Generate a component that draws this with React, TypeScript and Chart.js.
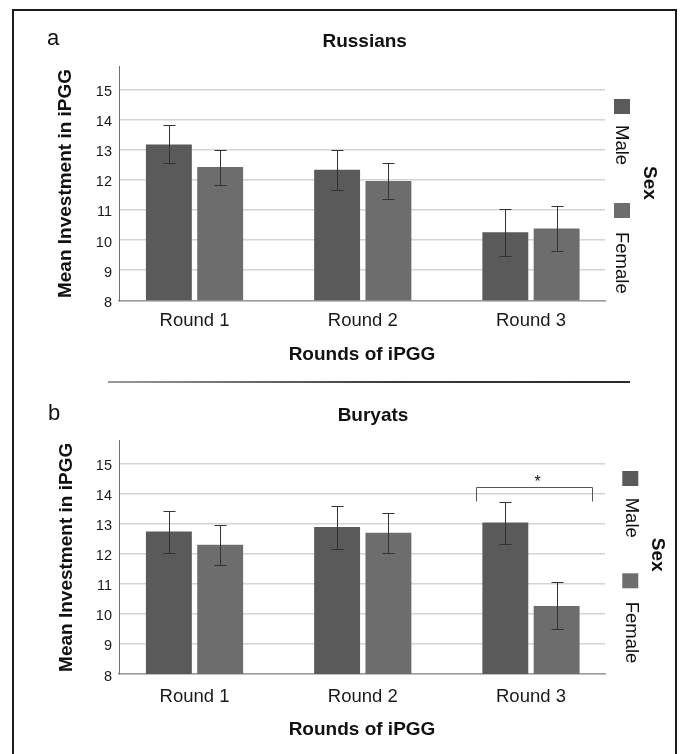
import React, { useEffect, useRef } from 'react';
import { Chart, registerables } from 'chart.js';

Chart.register(...registerables);

// ---------------- data ----------------
const categories = ['Round 1', 'Round 2', 'Round 3'];
const seriesNames = ['Male', 'Female'];
const yTicks = [8, 9, 10, 11, 12, 13, 14, 15];
const xAxisTitle = 'Rounds of iPGG';
const yAxisTitle = 'Mean Investment in iPGG';
const legendTitle = 'Sex';

// Panel a: Russians
const russiansMale = [13.17, 12.33, 10.26];
const russiansMaleHi = [13.8, 12.99, 11.04];
const russiansMaleLo = [12.57, 11.66, 9.47];
const russiansFemale = [12.42, 11.96, 10.38];
const russiansFemaleHi = [13.0, 12.57, 11.14];
const russiansFemaleLo = [11.84, 11.36, 9.64];

// Panel b: Buryats
const buryatsMale = [12.73, 12.88, 13.03];
const buryatsMaleHi = [13.43, 13.59, 13.72];
const buryatsMaleLo = [12.03, 12.16, 12.32];
const buryatsFemale = [12.29, 12.69, 10.26];
const buryatsFemaleHi = [12.95, 13.34, 11.05];
const buryatsFemaleLo = [11.62, 12.03, 9.48];

// significance bracket (Buryats, Round 3)
const sigFrom = 2.673;
const sigTo = 3.361;
const sigLevel = 14.2;
const sigDrop = 13.75;
const sigStarAt = 3.04;
const sigLabel = '*';

// ---------------- styles ----------------
const FONT = "'Liberation Sans', Arial, Helvetica, sans-serif";
const MALE_COLOR = '#5a5a5a';
const FEMALE_COLOR = '#6d6d6d';
const TEXT = '#111111';

Chart.defaults.font.family = FONT;

type Geo = {
  top: number;
  height: number;
  padTop: number;
  xAxisH: number;
  xTickPad: number;
  xTitlePadBottom: number;
  yTitlePadTop: number;
  letter: { x: number; y: number };
  title: { x: number; y: number };
  legend: {
    sqX: number; maleSqY: number; femSqY: number;
    textX: number; maleTextY: number; femTextY: number;
    sexX: number; sexY: number;
  };
};

type Panel = {
  letter: string;
  title: string;
  male: number[]; maleHi: number[]; maleLo: number[];
  female: number[]; femaleHi: number[]; femaleLo: number[];
  bracket: boolean;
  geo: Geo;
};

const russians: Panel = {
  letter: 'a',
  title: 'Russians',
  male: russiansMale, maleHi: russiansMaleHi, maleLo: russiansMaleLo,
  female: russiansFemale, femaleHi: russiansFemaleHi, femaleLo: russiansFemaleLo,
  bracket: false,
  geo: {
    top: 0, height: 380, padTop: 66.7, xAxisH: 79.7, xTickPad: 9.6, xTitlePadBottom: 13.6, yTitlePadTop: 54.6,
    letter: { x: 47, y: 45 },
    title: { x: 364.7, y: 46.5 },
    legend: { sqX: 614, maleSqY: 99, femSqY: 203, textX: 621.5, maleTextY: 125, femTextY: 232, sexX: 649.5, sexY: 183 },
  },
};

const buryats: Panel = {
  letter: 'b',
  title: 'Buryats',
  male: buryatsMale, maleHi: buryatsMaleHi, maleLo: buryatsMaleLo,
  female: buryatsFemale, femaleHi: buryatsFemaleHi, femaleLo: buryatsFemaleLo,
  bracket: true,
  geo: {
    top: 380, height: 374, padTop: 60.7, xAxisH: 80, xTickPad: 11.6, xTitlePadBottom: 12.6, yTitlePadTop: 55.6,
    letter: { x: 48, y: 39.5 },
    title: { x: 373, y: 41 },
    legend: { sqX: 622.3, maleSqY: 91, femSqY: 193.3, textX: 631, maleTextY: 117.7, femTextY: 221.7, sexX: 657, sexY: 174.7 },
  },
};

const decorPlugin = {
  id: 'panelDecor',
  afterDatasetsDraw(chart: any, _args: any, opts: any) {
    const ctx = chart.ctx;
    const y = chart.scales.y;
    const x = chart.scales.x;
    ctx.save();
    ctx.strokeStyle = '#333333';
    ctx.lineWidth = 1;
    chart.data.datasets.forEach((ds: any, di: number) => {
      const meta = chart.getDatasetMeta(di);
      meta.data.forEach((el: any, i: number) => {
        const px = Math.round(el.x) + 0.5;
        const yHi = Math.round(y.getPixelForValue(ds.errHi[i])) + 0.5;
        const yLo = Math.round(y.getPixelForValue(ds.errLo[i])) + 0.5;
        ctx.beginPath();
        ctx.moveTo(px, yHi); ctx.lineTo(px, yLo);
        ctx.moveTo(px - 6, yHi); ctx.lineTo(px + 6, yHi);
        ctx.moveTo(px - 6, yLo); ctx.lineTo(px + 6, yLo);
        ctx.stroke();
      });
    });
    if (opts.bracket) {
      const x1 = Math.round(x.getPixelForValue(sigFrom)) + 0.5;
      const x2 = Math.round(x.getPixelForValue(sigTo)) + 0.5;
      const yl = Math.round(y.getPixelForValue(sigLevel)) + 0.5;
      const yd = Math.round(y.getPixelForValue(sigDrop)) + 0.5;
      ctx.strokeStyle = '#555555';
      ctx.beginPath();
      ctx.moveTo(x1, yd); ctx.lineTo(x1, yl); ctx.lineTo(x2, yl); ctx.lineTo(x2, yd);
      ctx.stroke();
      ctx.fillStyle = TEXT;
      ctx.font = `16px ${FONT}`;
      ctx.textAlign = 'center';
      ctx.textBaseline = 'alphabetic';
      ctx.fillText(sigLabel, x.getPixelForValue(sigStarAt), yl - 0.5);
    }
    ctx.restore();
  },
  afterDraw(chart: any, _args: any, opts: any) {
    const ctx = chart.ctx;
    const g: Geo = opts.geo;
    ctx.save();
    // panel letter
    ctx.fillStyle = TEXT;
    ctx.font = `22px ${FONT}`;
    ctx.textAlign = 'left';
    ctx.textBaseline = 'alphabetic';
    ctx.fillText(opts.letter, g.letter.x, g.letter.y);
    // panel title
    ctx.font = `bold 19px ${FONT}`;
    ctx.textAlign = 'center';
    ctx.fillText(opts.title, g.title.x, g.title.y);
    // legend
    const L = g.legend;
    const ds = chart.data.datasets;
    ctx.fillStyle = ds[0].backgroundColor;
    ctx.fillRect(L.sqX, L.maleSqY, 16, 15);
    ctx.fillStyle = ds[1].backgroundColor;
    ctx.fillRect(L.sqX, L.femSqY, 16, 15);
    ctx.fillStyle = TEXT;
    const rotText = (t: string, cx: number, cy: number, font: string, align: CanvasTextAlign) => {
      ctx.save();
      ctx.translate(cx, cy);
      ctx.rotate(Math.PI / 2);
      ctx.font = font;
      ctx.textAlign = align;
      ctx.textBaseline = 'middle';
      ctx.fillText(t, 0, 0);
      ctx.restore();
    };
    rotText(ds[0].label, L.textX, L.maleTextY, `18.5px ${FONT}`, 'left');
    rotText(ds[1].label, L.textX, L.femTextY, `18.5px ${FONT}`, 'left');
    rotText(legendTitle, L.sexX, L.sexY, `bold 19px ${FONT}`, 'center');
    ctx.restore();
  },
};

const X_MIN = 0.551;
const X_MAX = 3.44;

function buildConfig(p: Panel): any {
  const g = p.geo;
  return {
    type: 'bar',
    data: {
      datasets: [
        {
          label: seriesNames[0],
          data: p.male.map((v, i) => ({ x: i + 1, y: v })),
          backgroundColor: MALE_COLOR,
          errHi: p.maleHi,
          errLo: p.maleLo,
          categoryPercentage: 0.61,
          barPercentage: 0.895,
        },
        {
          label: seriesNames[1],
          data: p.female.map((v, i) => ({ x: i + 1, y: v })),
          backgroundColor: FEMALE_COLOR,
          errHi: p.femaleHi,
          errLo: p.femaleLo,
          categoryPercentage: 0.61,
          barPercentage: 0.895,
        },
      ],
    },
    options: {
      responsive: false,
      animation: false,
      devicePixelRatio: 1,
      layout: { padding: { left: 0, right: 78, top: g.padTop, bottom: 0 } },
      plugins: {
        legend: { display: false },
        title: { display: false },
        tooltip: { enabled: false },
        panelDecor: { geo: g, letter: p.letter, title: p.title, bracket: p.bracket },
      },
      scales: {
        x: {
          type: 'linear',
          min: X_MIN,
          max: X_MAX,
          offset: false,
          grid: { display: false, drawTicks: false },
          border: { display: true, color: '#9a9a9a', width: 1.5 },
          afterBuildTicks: (s: any) => {
            s.ticks = categories.map((_, i) => ({ value: i + 1 }));
          },
          ticks: {
            callback: (v: number) => categories[Math.round(v) - 1] ?? '',
            font: { size: 18.5 },
            color: '#1a1a1a',
            padding: g.xTickPad,
            autoSkip: false,
            maxRotation: 0,
          },
          title: {
            display: true,
            text: xAxisTitle,
            font: { size: 19, weight: 'bold' },
            color: TEXT,
            padding: { top: 0, bottom: g.xTitlePadBottom },
          },
          afterFit: (s: any) => {
            s.height = g.xAxisH;
          },
        },
        y: {
          min: 8,
          max: 15.75,
          afterBuildTicks: (s: any) => {
            s.ticks = yTicks.map((v) => ({ value: v }));
          },
          grid: { color: '#d4d4d4', drawTicks: false, lineWidth: 1.5 },
          border: { display: true, color: '#707070', width: 1 },
          ticks: {
            font: { size: 14.5 },
            color: '#1a1a1a',
            padding: 7,
            labelOffset: 2.5,
          },
          title: {
            display: true,
            text: yAxisTitle,
            font: { size: 19, weight: 'bold' },
            color: TEXT,
            padding: { top: g.yTitlePadTop, bottom: 0 },
          },
          afterFit: (s: any) => {
            s.width = 119;
          },
        },
      },
    },
    plugins: [decorPlugin],
  };
}

function PanelChart({ panel }: { panel: Panel }) {
  const ref = useRef<HTMLCanvasElement | null>(null);
  useEffect(() => {
    if (!ref.current) return;
    const chart = new Chart(ref.current, buildConfig(panel));
    return () => chart.destroy();
  }, [panel]);
  return (
    <canvas
      ref={ref}
      width={683}
      height={panel.geo.height}
      style={{ position: 'absolute', left: 0, top: panel.geo.top, width: 683, height: panel.geo.height }}
    />
  );
}

export default function App() {
  return (
    <div
      style={{
        position: 'fixed',
        left: 0,
        top: 0,
        width: 683,
        height: 754,
        overflow: 'hidden',
        background: '#ffffff',
      }}
    >
      <PanelChart panel={russians} />
      <PanelChart panel={buryats} />
      <div
        style={{
          position: 'absolute',
          left: 12,
          top: 9,
          width: 665,
          height: 800,
          border: '2px solid #1c1c1c',
          boxSizing: 'border-box',
        }}
      />
      <div
        style={{
          position: 'absolute',
          left: 108,
          top: 381,
          width: 522,
          height: 1.5,
          background: 'linear-gradient(to right, #9a9a9a, #3a3a3a 55%, #2a2a2a)',
        }}
      />
    </div>
  );
}
